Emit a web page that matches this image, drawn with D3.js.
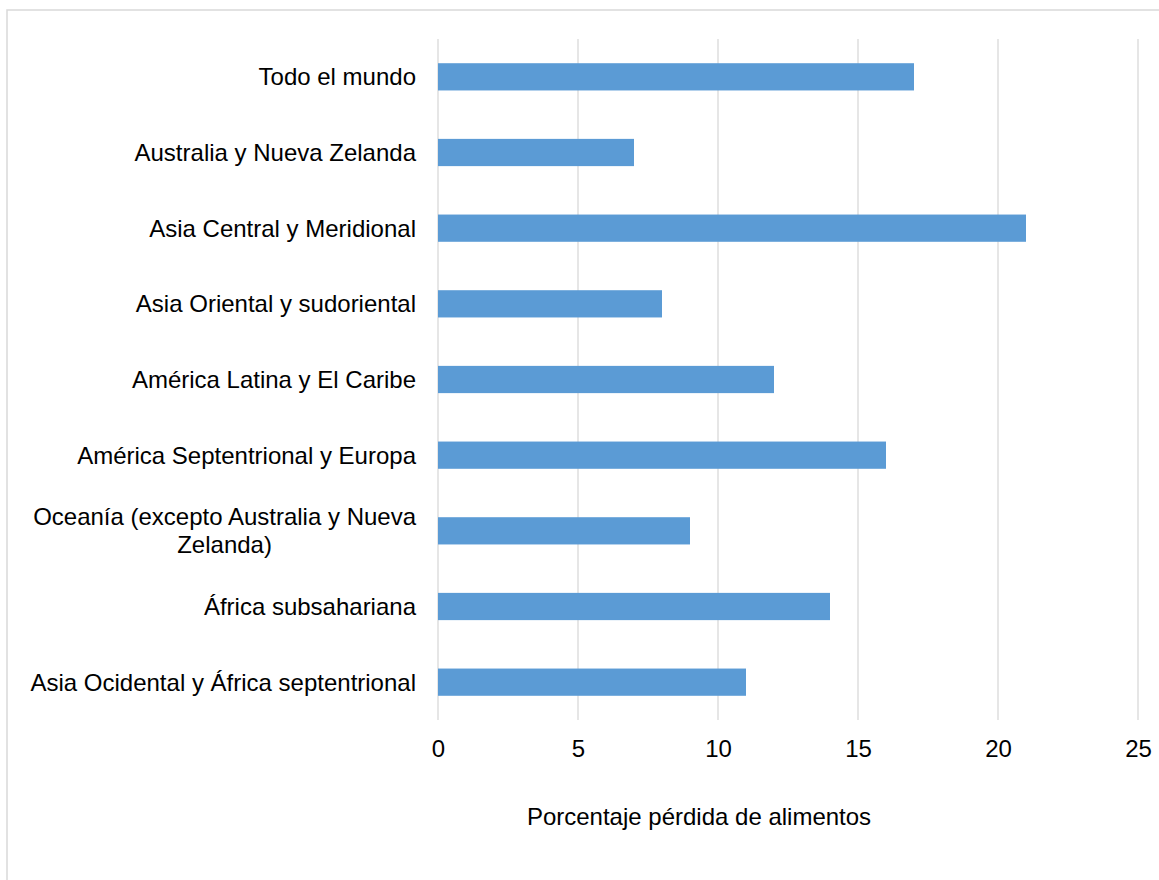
<!DOCTYPE html>
<html>
<head>
<meta charset="utf-8">
<script src="https://cdn.jsdelivr.net/npm/d3@7"></script>
<style>
  html, body { margin: 0; padding: 0; background: #fff; }
  svg { display: block; font-family: Arial, "Liberation Sans", sans-serif; }
</style>
</head>
<body>
<svg id="chart" width="1159" height="880"></svg>
<script>
// Regions, top to bottom, and food loss percentage for each
const categories = [
  "Todo el mundo",
  "Australia y Nueva Zelanda",
  "Asia Central y Meridional",
  "Asia Oriental y sudoriental",
  "América Latina y El Caribe",
  "América Septentrional y Europa",
  "Oceanía (excepto Australia y Nueva Zelanda)",
  "África subsahariana",
  "Asia Ocidental y África septentrional"
];
const values = [17, 7, 21, 8, 12, 16, 9, 14, 11];
const xTicks = [0, 5, 10, 15, 20, 25];
const xTitle = "Porcentaje pérdida de alimentos";

const svg = d3.select("#chart");
const W = 1159, H = 880;
const plot = { left: 438, right: 1138, top: 39, bottom: 720 };

// Outer chart border
svg.append("rect")
  .attr("x", 7).attr("y", 10)
  .attr("width", W + 20).attr("height", H + 20)
  .attr("fill", "#fff")
  .attr("stroke", "#d9d9d9").attr("stroke-width", 1.5);

const x = d3.scaleLinear().domain([0, 25]).range([plot.left, plot.right]);
const y = d3.scaleBand().domain(categories)
  .range([plot.top, plot.bottom])
  .paddingInner(0.64).paddingOuter(0.32);

// Vertical gridlines
svg.append("g")
  .selectAll("line").data(xTicks).join("line")
  .attr("x1", d => x(d)).attr("x2", d => x(d))
  .attr("y1", plot.top).attr("y2", plot.bottom)
  .attr("stroke", "#d9d9d9").attr("stroke-width", 1.3);

// Bars
svg.append("g")
  .selectAll("rect").data(categories).join("rect")
  .attr("x", x(0))
  .attr("y", d => y(d))
  .attr("width", (d, i) => x(values[i]) - x(0))
  .attr("height", y.bandwidth())
  .attr("fill", "#5b9bd5");

// X axis tick labels
const xAxis = d3.axisBottom(x).tickValues(xTicks).tickSize(0).tickPadding(0);
const gx = svg.append("g").attr("transform", `translate(0,${plot.bottom})`).call(xAxis);
gx.select(".domain").remove();
gx.selectAll("text")
  .attr("dy", null)
  .attr("y", 37)
  .attr("font-size", 24)
  .attr("font-family", "Arial, 'Liberation Sans', sans-serif")
  .attr("fill", "#000");

// Category labels, wrapped when wider than the label column
const labelRight = 416, maxLabelWidth = 400;
const yAxis = svg.append("g");
categories.forEach(cat => {
  const cy = y(cat) + y.bandwidth() / 2;
  const t = yAxis.append("text")
    .attr("font-size", 24).attr("fill", "#000");
  const words = cat.split(" ");
  const lines = [];
  let line = [];
  const probe = t.append("tspan");
  words.forEach(w => {
    line.push(w);
    probe.text(line.join(" "));
    if (probe.node().getComputedTextLength() > maxLabelWidth && line.length > 1) {
      line.pop();
      lines.push(line.join(" "));
      line = [w];
    }
  });
  lines.push(line.join(" "));
  probe.remove();

  if (lines.length === 1) {
    t.attr("text-anchor", "end").attr("x", labelRight).attr("y", cy + 8.5).text(cat);
  } else {
    const lh = 28;
    // measure the widest line so the block stays right-aligned
    let widest = 0;
    lines.forEach(l => {
      const m = t.append("tspan").text(l);
      widest = Math.max(widest, m.node().getComputedTextLength());
      m.remove();
    });
    const cx = labelRight - widest / 2;
    t.attr("text-anchor", "middle");
    const y0 = cy + 8.5 - (lines.length - 1) * lh / 2;
    lines.forEach((l, i) => {
      t.append("tspan").attr("x", cx).attr("y", y0 + i * lh).text(l);
    });
  }
});

// Axis title
svg.append("text")
  .attr("x", 699)
  .attr("y", 825)
  .attr("text-anchor", "middle")
  .attr("font-size", 24)
  .attr("fill", "#000")
  .text(xTitle);
</script>
</body>
</html>
